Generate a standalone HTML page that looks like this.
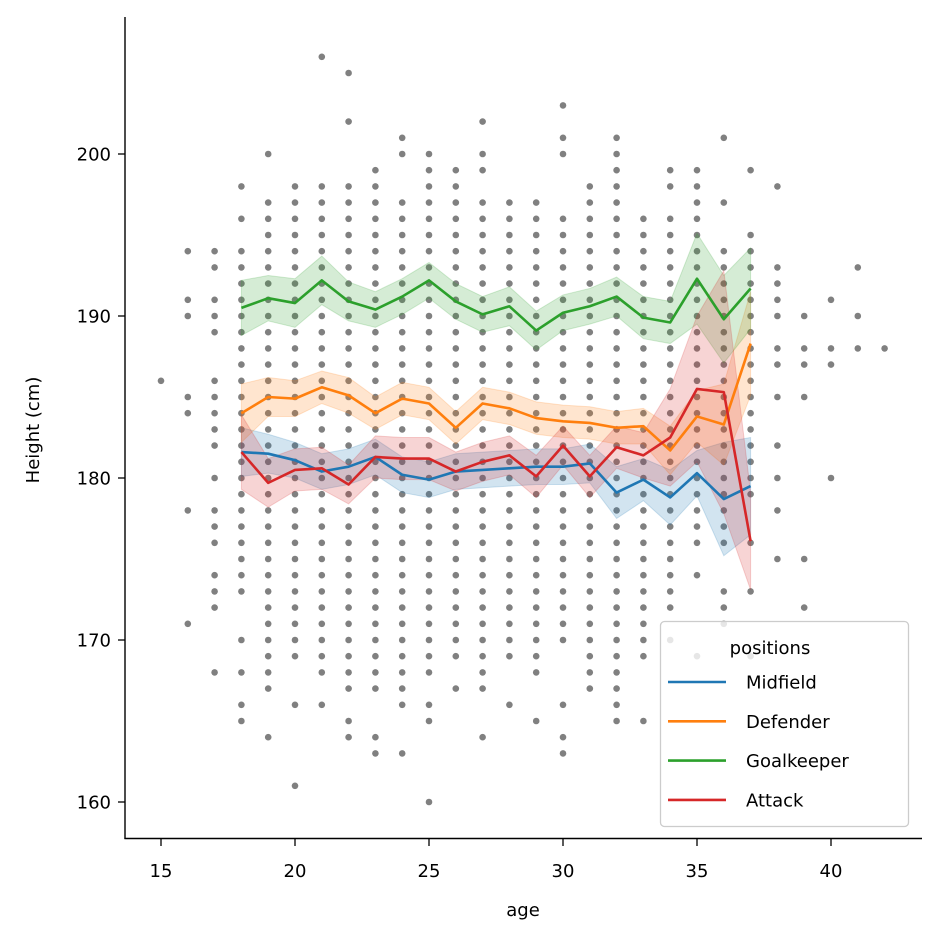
<!DOCTYPE html>
<html><head><meta charset="utf-8"><style>
html,body{margin:0;padding:0;background:#fff;width:940px;height:940px;overflow:hidden}
svg text{font-family:"DejaVu Sans","Liberation Sans",sans-serif;fill:#000}
</style></head><body>
<svg id="chart" width="940" height="940" viewBox="0 0 940 940" xmlns="http://www.w3.org/2000/svg">
<g id="dots"></g>
<g id="bands"></g>
<g id="lines"></g>
<g id="axes"></g>
<g id="legend"></g>
</svg>
<script>
// ---- data ----
const xTicks = [15,20,25,30,35,40];
const yTicks = [160,170,180,190,200];
const scatterAges = [15,16,17,18,19,20,21,22,23,24,25,26,27,28,29,30,31,32,33,34,35,36,37,38,39,40,41,42];
const scatterHeights = [
 "186",
 "194,191,190,185,184,178,171",
 "194,193,191,190,189,186,185,184,183,182,180,178,177,176,174,173,172,168",
 "198,196,194-173,170,168,166,165",
 "200,197-167,164",
 "198-169,166,161",
 "206,198-168,166",
 "205,202,198-167,165,164",
 "199,198-167,164,163",
 "201,200,197-167,166,163",
 "200-168,166,165,160",
 "199-169,167",
 "202,200,199,197-167,164",
 "197-169,166",
 "197-168,165",
 "203,201,200,196-170,166,164,163",
 "198-167",
 "201-165",
 "196-169,165",
 "199,198,196-172,170",
 "199-176,174,169",
 "201,197,194-176,173,172,171",
 "199,195-179,176,173,169",
 "198,193,192,191,190,188,187,185,182,180,178,175",
 "190,188,187,185,175,172",
 "191,188,187,180",
 "193,190,188",
 "188"
];
const lineAges = [18,19,20,21,22,23,24,25,26,27,28,29,30,31,32,33,34,35,36,37];
const midfieldMean = [181.6,181.5,181.1,180.4,180.7,181.3,180.2,179.9,180.4,180.5,180.6,180.7,180.7,180.9,179.1,179.9,178.8,180.3,178.7,179.5];
const midfieldCI   = [1.5,1.2,1.1,1.1,1.1,1.1,1.1,1.1,1.1,1.1,1.1,1.1,1.1,1.2,1.6,1.3,1.7,1.4,3.5,3.0];
const defenderMean = [184.0,185.0,184.9,185.6,185.1,184.0,184.9,184.6,183.1,184.6,184.3,183.7,183.5,183.4,183.1,183.2,181.7,183.8,183.3,188.3];
const defenderCI   = [1.8,1.2,1.1,1.0,1.1,1.0,1.0,1.0,1.0,1.0,1.0,1.0,1.0,1.0,1.0,1.1,1.5,1.6,2.5,3.2];
const keeperMean   = [190.5,191.1,190.8,192.2,190.9,190.4,191.2,192.2,190.9,190.1,190.6,189.1,190.2,190.6,191.2,189.9,189.6,192.3,189.8,191.7];
const keeperCI     = [1.7,1.4,1.5,1.5,1.2,1.1,1.1,1.1,1.1,1.1,1.2,1.2,1.1,1.1,1.2,1.3,1.3,2.8,2.7,2.5];
const attackMean   = [181.6,179.7,180.5,180.6,179.6,181.3,181.2,181.2,180.4,181.0,181.4,180.1,182.0,180.1,181.9,181.4,182.5,185.5,185.3,176.1];
const attackCI     = [2.3,1.5,1.3,1.3,1.2,1.3,1.3,1.3,1.2,1.2,1.2,1.3,1.2,1.3,1.3,1.4,3.0,4.5,7.5,3.0];
const seriesNames = ["Midfield","Defender","Goalkeeper","Attack"];

// ---- scales ----
const x = a => 161 + (a-15)*26.8;
const y = h => 802 - (h-160)*16.2;
const NS="http://www.w3.org/2000/svg";
function mk(tag, attrs, parent){const e=document.createElementNS(NS,tag);for(const k in attrs)e.setAttribute(k,attrs[k]);parent.appendChild(e);return e;}

const gd=document.getElementById('dots');
scatterAges.forEach((age,i)=>{
  scatterHeights[i].split(',').forEach(tok=>{
    let vals=[];
    if(tok.includes('-')){const [a,b]=tok.split('-').map(Number);for(let v=Math.min(a,b);v<=Math.max(a,b);v++)vals.push(v);}
    else vals=[Number(tok)];
    vals.forEach(v=>{
      const c=mk('circle',{cx:x(age),cy:y(v),r:3.3,fill:'#808080'},gd);
      
      
    });
  });
});

const series=[[midfieldMean,midfieldCI,'#1f77b4'],[defenderMean,defenderCI,'#ff7f0e'],[keeperMean,keeperCI,'#2ca02c'],[attackMean,attackCI,'#d62728']];
const gb=document.getElementById('bands'), gl=document.getElementById('lines');
series.forEach((s,si)=>{
  const [m,ci,col]=s;
  let up=lineAges.map((a,i)=>x(a)+','+y(m[i]+ci[i]));
  let lo=lineAges.map((a,i)=>x(a)+','+y(m[i]-ci[i])).reverse();
  const b=mk('polygon',{points:up.concat(lo).join(' '),fill:col,'fill-opacity':0.2,stroke:col,'stroke-opacity':0.2},gb);
  
  
  const l=mk('polyline',{points:lineAges.map((a,i)=>x(a)+','+y(m[i])).join(' '),fill:'none',stroke:col,'stroke-width':2.6,'stroke-linejoin':'round'},gl);
  
  
});

const ga=document.getElementById('axes');
const sp1=mk('line',{x1:125,y1:17,x2:125,y2:839,stroke:'#000','stroke-width':1.4},ga);


const sp2=mk('line',{x1:124.4,y1:838.5,x2:922,y2:838.5,stroke:'#000','stroke-width':1.4},ga);


xTicks.forEach(t=>{
  mk('line',{x1:x(t),y1:839,x2:x(t),y2:846,stroke:'#000','stroke-width':1.3},ga);
  const tx=mk('text',{x:x(t),y:877,'font-size':18,'text-anchor':'middle'},ga);
  tx.textContent=t;
  
  
});
yTicks.forEach(t=>{
  mk('line',{x1:118,y1:y(t),x2:125,y2:y(t),stroke:'#000','stroke-width':1.3},ga);
  const tx=mk('text',{x:111,y:y(t)+6.5,'font-size':18,'text-anchor':'end'},ga);
  tx.textContent=t;
  
  
});
const xt=mk('text',{x:523,y:916,'font-size':18,'text-anchor':'middle'},ga);
xt.textContent='age';


const yt=mk('text',{x:0,y:0,'font-size':18,'text-anchor':'middle',transform:'translate(39,430) rotate(-90)'},ga);
yt.textContent='Height (cm)';



const lg=document.getElementById('legend');
const box=mk('rect',{x:660.5,y:621.5,width:248,height:205,rx:4,fill:'#fff','fill-opacity':0.8,stroke:'#ccc','stroke-width':1.3},lg);


const lt=mk('text',{x:770,y:654,'font-size':18,'text-anchor':'middle'},lg);
lt.textContent='positions';


series.forEach((s,i)=>{
  const yy=682+i*39.3;
  const ln=mk('line',{x1:668,y1:yy,x2:726,y2:yy,stroke:s[2],'stroke-width':2.6},lg);
  
  
  const t=mk('text',{x:746,y:yy+6.5,'font-size':18},lg);
  t.textContent=seriesNames[i];
  
  
});
</script>
</body></html>
